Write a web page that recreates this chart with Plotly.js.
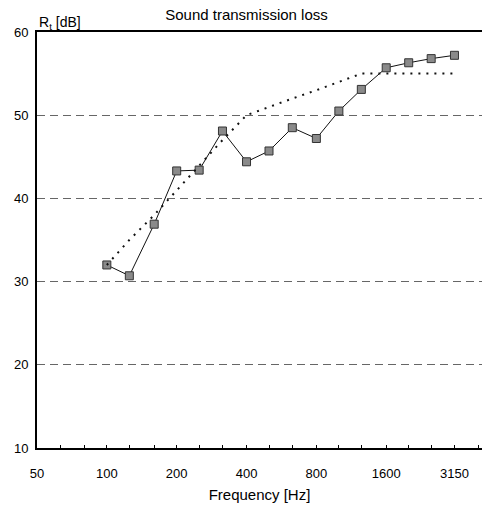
<!DOCTYPE html>
<html><head><meta charset="utf-8">
<script src="https://cdn.plot.ly/plotly-3.0.1.min.js"></script>
<style>html,body{margin:0;padding:0;background:#fff}#c{width:493px;height:511px}</style>
</head><body><div id="c"></div>
<script>
const freqs = [100,125,160,200,250,315,400,500,630,800,1000,1250,1600,2000,2500,3150];
const measured = [32.0,30.7,36.9,43.3,43.4,48.1,44.4,45.7,48.5,47.2,50.5,53.1,55.7,56.3,56.8,57.2];
const reference = [32,35,38,41,44,47,50,51,52,53,54,55,55,55,55,55];
const bandTicks = [50,63,80,100,125,160,200,250,315,400,500,630,800,1000,1250,1600,2000,2500,3150,4000];
const labelTicks = [50,100,200,400,800,1600,3150];
const labelText = ['50','100','200','400','800','1600','3150'];
const yTicks = [10,20,30,40,50,60];

const fam = 'Liberation Sans, Arial, sans-serif';
const x0 = Math.log10(50);
const xr = [x0, x0+1.918];
const traces = [
  {x:freqs, y:reference, xaxis:'x2', mode:'lines', line:{color:'#111', width:2, dash:'2px,6px'}, hoverinfo:'skip'},
  {x:freqs, y:measured, mode:'lines+markers', line:{color:'#111', width:1},
   marker:{symbol:'square', size:8, color:'#8a8a8a', line:{color:'#333', width:1}}}
];
const layout = {
  width:493, height:511, showlegend:false,
  paper_bgcolor:'#fff', plot_bgcolor:'#fff', font:{family:fam, size:13, color:'#000'},
  margin:{l:37, r:11, t:32, b:63},
  title:{text:'Sound transmission loss', x:0.5, xref:'container', xanchor:'center', y:0.972, yref:'container', yanchor:'middle', font:{family:fam, size:15, color:'#000'}},
  xaxis:{type:'log', range:xr, tickvals:labelTicks, ticktext:labelText,
    ticks:'inside', ticklen:3, tickcolor:'#000', showgrid:false, zeroline:false,
    showline:true, linecolor:'#000', linewidth:2, mirror:true, ticklabelstandoff:12,
    tickfont:{family:fam, size:13},
    title:{text:'Frequency [Hz]', font:{family:fam, size:15}, standoff:10}},
  xaxis2:{type:'log', range:xr, overlaying:'x', side:'bottom', tickvals:bandTicks,
    showticklabels:false, ticks:'inside', ticklen:3, tickcolor:'#000', showgrid:false,
    zeroline:false, showline:false},
  yaxis:{range:[10,60], tickvals:yTicks, ticks:'', showgrid:true, gridcolor:'#666', gridwidth:1,
    griddash:'8px,5px', zeroline:false, showline:true, linecolor:'#000', linewidth:2, ticklabelstandoff:4,
    tickfont:{family:fam, size:13}},
  annotations:[{text:'R<sub>t</sub> [dB]', xref:'paper', yref:'paper', x:0, y:1, xanchor:'left', yanchor:'bottom', xshift:0, yshift:-2, showarrow:false, font:{family:fam, size:14}}]
};
Plotly.newPlot('c', traces, layout, {displayModeBar:false, staticPlot:true});
</script></body></html>
